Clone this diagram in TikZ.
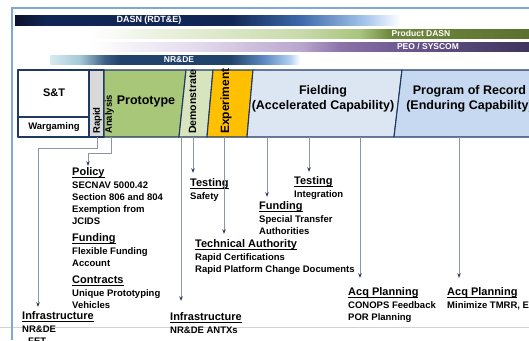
\documentclass[tikz,border=0pt]{standalone}
\usepackage{fontspec}
\setmainfont{Liberation Sans}
\usepackage{xcolor}
\usetikzlibrary{arrows.meta,calc,positioning}

\definecolor{framesky}{RGB}{125,168,215}
\definecolor{barnavy}{RGB}{31,56,100}
\definecolor{protogreen}{RGB}{169,199,121}
\definecolor{demogreen}{RGB}{215,228,189}
\definecolor{exporange}{RGB}{255,192,0}
\definecolor{fieldblue}{RGB}{220,230,242}
\definecolor{porblue}{RGB}{198,217,240}
\definecolor{rapidgray}{RGB}{217,217,217}
\definecolor{linkgray}{RGB}{140,148,168}
\definecolor{tipnavy}{RGB}{40,55,90}
\definecolor{rulegray}{RGB}{210,210,210}

% band colours
\definecolor{dasnA}{RGB}{10,18,40}
\definecolor{dasnB}{RGB}{18,38,85}
\definecolor{dasnC}{RGB}{60,105,170}
\definecolor{dasnD}{RGB}{165,198,236}
\definecolor{prodA}{RGB}{236,243,226}
\definecolor{prodB}{RGB}{200,218,170}
\definecolor{prodC}{RGB}{168,196,126}
\definecolor{prodD}{RGB}{112,137,62}
\definecolor{prodE}{RGB}{92,112,46}
\definecolor{peoA}{RGB}{226,217,236}
\definecolor{peoB}{RGB}{186,166,206}
\definecolor{peoC}{RGB}{140,115,170}
\definecolor{peoD}{RGB}{110,90,145}
\definecolor{peoE}{RGB}{62,52,92}
\definecolor{nrdeA}{RGB}{215,235,240}
\definecolor{nrdeB}{RGB}{165,200,215}
\definecolor{nrdeC}{RGB}{60,95,135}
\definecolor{nrdeD}{RGB}{33,66,106}
\definecolor{nrdeE}{RGB}{95,140,195}
\definecolor{nrdeF}{RGB}{178,207,240}

\pgfdeclarehorizontalshading{dasnshade}{100bp}{color(0bp)=(dasnA); color(25bp)=(dasnA);
  color(29bp)=(dasnB); color(53bp)=(dasnB); color(62bp)=(dasnC); color(70.5bp)=(dasnD);
  color(75bp)=(white); color(100bp)=(white)}
\pgfdeclarehorizontalshading{prodshade}{100bp}{color(0bp)=(white); color(25bp)=(white);
  color(32bp)=(prodA); color(49bp)=(prodB); color(55.7bp)=(prodC); color(59bp)=(prodD);
  color(75bp)=(prodE); color(100bp)=(prodE)}
\pgfdeclarehorizontalshading{peoshade}{100bp}{color(0bp)=(white); color(25bp)=(white);
  color(37.5bp)=(peoA); color(49bp)=(peoB); color(53.4bp)=(peoC); color(60bp)=(peoD);
  color(75bp)=(peoE); color(100bp)=(peoE)}
\pgfdeclarehorizontalshading{nrdeshade}{100bp}{color(0bp)=(nrdeA); color(25bp)=(nrdeA);
  color(31bp)=(nrdeB); color(36bp)=(nrdeC); color(39bp)=(nrdeD); color(61bp)=(nrdeD);
  color(68bp)=(nrdeE); color(73bp)=(nrdeF); color(75bp)=(white); color(100bp)=(white)}

% underlined heading of an enabler block
\newcommand{\blockhead}[1]{{\fontsize{11}{13}\selectfont\setbox0\hbox{#1}%
  \rlap{\rule[-2.3pt]{\wd0}{0.8pt}}\box0}}

\begin{document}
\begin{tikzpicture}[
    x=1pt,
    y=-1pt,
    band/.style={inner sep=0pt, text=white, font=\bfseries\fontsize{8.5}{10}\selectfont},
    phase/.style={draw=barnavy, line width=1.1pt, line join=round},
    barlabel/.style={inner sep=0pt, align=center, font=\bfseries\fontsize{12.5}{15}\selectfont},
    sidelabel/.style={inner sep=0pt, rotate=90, anchor=west, font=\bfseries\fontsize{9.5}{11}\selectfont},
    note/.style={anchor=north west, align=left, inner sep=0pt, font=\bfseries\fontsize{9.5}{11.7}\selectfont},
    link/.style={draw=linkgray, line width=1pt, -{Stealth[length=4.5pt,width=3.5pt,color=tipnavy]}}
]
\useasboundingbox (0,0) rectangle (529,340);
\clip (0,0) rectangle (529,340);
\fill[white] (0,0) rectangle (529,340);

% frame and bottom rule
\draw[rulegray, line width=1pt] (0,327) -- (529,327);
\draw[framesky, line width=1.5pt] (12,340) -- (12,8) -- (529,8);

% responsibility bands
\shade[shading=dasnshade] (15,15) rectangle (400,25);
\shade[shading=prodshade] (90,29) rectangle (530,38);
\shade[shading=peoshade] (90,42) rectangle (530,51);
\shade[shading=nrdeshade] (50,55) rectangle (300,64);
\node[band, font=\bfseries\fontsize{9}{10}\selectfont] (dasnlbl) at (149,20) {DASN (RDT\&E)};
\node[band] (prodlbl) at (421,33.5) {Product DASN};
\node[band] (peolbl) at (428,46.5) {PEO / SYSCOM};
\node[band] (nrdelbl) at (179,59.5) {NR\&DE};

% phase bar
\draw[phase, fill=white] (18,70) rectangle (89,117);
\draw[phase, fill=white] (18,117) rectangle (89,137);
\draw[phase, fill=rapidgray] (89,70) rectangle (104,137);
\draw[phase, fill=protogreen] (104,70) -- (186,70) -- (179,137) -- (104,137) -- cycle;
\draw[phase, fill=demogreen] (186,70) -- (213,70) -- (207,137) -- (179,137) -- cycle;
\draw[phase, fill=exporange] (213,70) -- (253,70) -- (247,137) -- (207,137) -- cycle;
\draw[phase, fill=fieldblue] (253,70) -- (402,70) -- (394,137) -- (247,137) -- cycle;
\draw[phase, fill=porblue] (402,70) -- (540,70) -- (540,137) -- (394,137) -- cycle;

\node[barlabel, font=\bfseries\fontsize{11}{13}\selectfont] (st) at (54,93) {S\&T};
\node[barlabel, font=\bfseries\fontsize{9.5}{11}\selectfont] (wargaming) at (54,127) {Wargaming};
\node[sidelabel] (rapid) at (97.5,134) {Rapid};
\node[sidelabel] (analysis) at (109.5,134) {Analysis};
\node[barlabel] (prototype) at (146,101) {Prototype};
\node[sidelabel, font=\bfseries\fontsize{10.5}{12}\selectfont] (demonstrate) at (192.5,134) {Demonstrate};
\node[sidelabel, font=\bfseries\fontsize{12}{14}\selectfont] (experiment) at (226,134) {Experiment};
\node[barlabel] (fielding) at (323,99) {Fielding\\(Accelerated Capability)};
\node[barlabel] (record) at (469.5,99) {Program of Record\\(Enduring Capability)};

% feet of the connectors
\coordinate (rapidfoot) at (97,137);
\coordinate (analysisfoot) at (111,137);
\coordinate (demofootA) at (181,137);
\coordinate (demofootB) at (193,137);
\coordinate (expfoot) at (224,137);
\coordinate (fieldfootA) at (267,137);
\coordinate (fieldfootB) at (309,137);
\coordinate (fieldfootC) at (360,137);
\coordinate (porfoot) at (459,137);

% enablers
\node[note] (policy) at (72,167.8) {\blockhead{Policy}\\[1.3pt]SECNAV 5000.42\\Section 806 and 804\\Exemption from\\JCIDS};
\node[note] (fundA) at (72,233.8) {\blockhead{Funding}\\[1.3pt]Flexible Funding\\Account};
\node[note] (contracts) at (72,275.8) {\blockhead{Contracts}\\[1.3pt]Unique Prototyping\\Vehicles};
\node[note] (infraL) at (22,311.8) {\blockhead{Infrastructure}\\[1.3pt]NR\&DE\\\hspace*{6pt}FET};
\node[note] (testA) at (190,178.8) {\blockhead{Testing}\\[1.3pt]Safety};
\node[note] (testB) at (294,176.8) {\blockhead{Testing}\\[1.3pt]Integration};
\node[note] (fundB) at (259,201.8) {\blockhead{Funding}\\[1.3pt]Special Transfer\\Authorities};
\node[note] (techA) at (195,239.8) {\blockhead{Technical Authority}\\[1.3pt]Rapid Certifications\\Rapid Platform Change Documents};
\node[note] (infraR) at (170,312.8) {\blockhead{Infrastructure}\\[1.3pt]NR\&DE ANTXs};
\node[note] (acqA) at (348,287.8) {\blockhead{Acq Planning}\\[1.3pt]CONOPS Feedback\\POR Planning};
\node[note] (acqB) at (447,287.8) {\blockhead{Acq Planning}\\[1.3pt]Minimize TMRR, E};

\draw[link] (rapidfoot) -- ++(0,11) -| ([xshift=16pt,yshift=5pt]infraL.north west);
\draw[link] (analysisfoot) -- ++(0,16) -| ([xshift=16pt,yshift=2pt]policy.north west);
\draw[link] (demofootA) -- ([yshift=12pt]demofootA |- infraR.north);
\draw[link] (demofootB) -- ([yshift=6pt]demofootB |- testA.north);
\draw[link] (expfoot) -- ([yshift=6pt]expfoot |- techA.north);
\draw[link] (fieldfootA) -- ([yshift=5pt]fieldfootA |- fundB.north);
\draw[link] (fieldfootB) -- ([yshift=5pt]fieldfootB |- testB.north);
\draw[link] (fieldfootC) -- ([yshift=10pt]fieldfootC |- acqA.north);
\draw[link] (porfoot) -- ([yshift=10pt]porfoot |- acqB.north);

\end{tikzpicture}
\end{document}
